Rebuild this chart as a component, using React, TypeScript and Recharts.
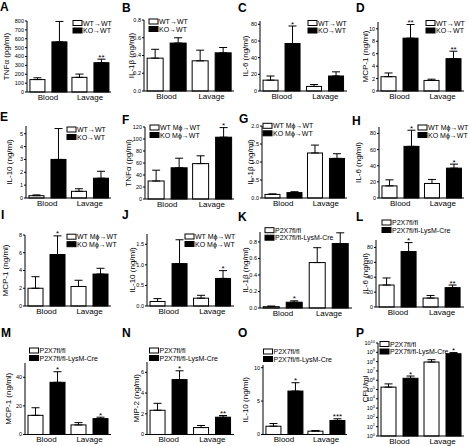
import { BarChart, Bar, XAxis, YAxis, ErrorBar } from "recharts";

const categories = ["Blood", "Lavage"];

const chimeraLegend = ["WT→WT", "KO→WT"];
const macLegend = ["WT Mϕ→WT", "KO Mϕ→WT"];
const floxLegend = ["P2X7fl/fl", "P2X7fl/fl-LysM-Cre"];

// A - TNFα
const aWt = [140, 165];
const aWtErr = [20, 37];
const aKo = [565, 330];
const aKoErr = [230, 40];
const aStars = ["", "**"];
const aTicks = [0, 100, 200, 300, 400, 500, 600, 700, 800];

// B - IL-1β
const bWt = [0.37, 0.34];
const bWtErr = [0.1, 0.12];
const bKo = [0.54, 0.43];
const bKoErr = [0.06, 0.06];
const bStars = ["", ""];
const bTicks = [0, 0.2, 0.4, 0.6, 0.8];

// C - IL-6
const cWt = [13, 5.5];
const cWtErr = [5, 2.3];
const cKo = [57, 18];
const cKoErr = [21, 5];
const cStars = ["*", ""];
const cTicks = [0, 20, 40, 60, 80];

// D - MCP-1
const dWt = [2.3, 1.7];
const dWtErr = [0.6, 0.2];
const dKo = [8.5, 5.2];
const dKoErr = [2.2, 1.2];
const dStars = ["**", "**"];
const dTicks = [0, 2, 4, 6, 8, 10];

// E - IL-10
const eWt = [0.18, 0.52];
const eWtErr = [0.06, 0.2];
const eKo = [3.0, 1.54];
const eKoErr = [2.4, 0.54];
const eStars = ["", ""];
const eTicks = [0, 1, 2, 3, 4, 5];

// F - TNFα, macrophage transfer
const fWt = [30, 59];
const fWtErr = [18, 13];
const fKo = [52, 103];
const fKoErr = [16, 16];
const fStars = ["", "*"];
const fTicks = [0, 20, 40, 60, 80, 100, 120];

// G - IL-1β
const gWt = [0.1, 1.25];
const gWtErr = [0.015, 0.22];
const gKo = [0.15, 1.1];
const gKoErr = [0.025, 0.13];
const gStars = ["", ""];
const gTicks = [0, 0.5, 1, 1.5, 2];

// H - IL-6
const hWt = [15, 18];
const hWtErr = [7.5, 5];
const hKo = [64, 37];
const hKoErr = [20, 5];
const hStars = ["*", "*"];
const hTicks = [0, 20, 40, 60, 80];

// I - MCP-1
const iWt = [2.0, 2.2];
const iWtErr = [1.3, 0.7];
const iKo = [5.8, 3.6];
const iKoErr = [2.1, 0.65];
const iStars = ["*", ""];
const iTicks = [0, 2, 4, 6, 8];

// J - IL-10
const jWt = [0.11, 0.19];
const jWtErr = [0.07, 0.07];
const jKo = [1.03, 0.67];
const jKoErr = [0.58, 0.19];
const jStars = ["", "*"];
const jTicks = [0, 0.5, 1, 1.5];

// K - IL-1β, P2X7 flox
const kWt = [0.016, 0.55];
const kWtErr = [0.008, 0.18];
const kKo = [0.07, 0.78];
const kKoErr = [0.017, 0.13];
const kStars = ["*", ""];
const kTicks = [0, 0.2, 0.4, 0.6, 0.8];

// L - IL-6
const lWt = [29.5, 12];
const lWtErr = [9.5, 3.5];
const lKo = [74.5, 26];
const lKoErr = [12, 3.5];
const lStars = ["*", "**"];
const lTicks = [0, 20, 40, 60, 80];

// M - MCP-1
const mWt = [13.4, 6.7];
const mWtErr = [5.3, 1.6];
const mKo = [36.5, 11.1];
const mKoErr = [7.4, 1.0];
const mStars = ["*", "*"];
const mTicks = [0, 20, 40];

// N - MIP-2
const nWt = [2.34, 0.67];
const nWtErr = [0.67, 0.2];
const nKo = [5.3, 1.67];
const nKoErr = [0.85, 0.16];
const nStars = ["*", "**"];
const nTicks = [0, 2, 4, 6];

// O - IL-10
const oWt = [1.24, 0.5];
const oWtErr = [0.4, 0.1];
const oKo = [6.5, 2.1];
const oKoErr = [1.25, 0.25];
const oStars = ["*", "***"];
const oTicks = [0, 5, 10];

// P - CFU/ml (log)
const pWt = [1.8e5, 9e7];
const pWtErr = [2.2e5, 7e7];
const pKo = [1.6e6, 7e8];
const pKoErr = [1.2e6, 2.3e8];
const pStars = ["*", "*"];
const pTicks = [1, 10, 1e2, 1e3, 1e4, 1e5, 1e6, 1e7, 1e8, 1e9, 1e10];

const FONT = "'Liberation Sans', Arial, Helvetica, sans-serif";

type Box = { l: number; r: number; t: number; b: number };

type PanelDef = {
  letter: string;
  ylabel: string;
  legend: string[];
  wt: number[];
  wtErr: number[];
  ko: number[];
  koErr: number[];
  stars: string[];
  ticks: number[];
  domain: [number, number];
  digits: number;
  log?: boolean;
  box: Box;
  ylx: number;
  leg: [number, number];
  let: [number, number];
};

const panels: PanelDef[] = [
  { letter: "A", ylabel: "TNFα (pg/ml)", legend: chimeraLegend, wt: aWt, wtErr: aWtErr, ko: aKo, koErr: aKoErr, stars: aStars, ticks: aTicks, domain: [0, 800], digits: 0,
    box: { l: 27, r: 111, t: 21, b: 92 }, ylx: 6, leg: [73, 23], let: [0, 11] },
  { letter: "B", ylabel: "IL-1β (ng/ml)", legend: chimeraLegend, wt: bWt, wtErr: bWtErr, ko: bKo, koErr: bKoErr, stars: bStars, ticks: bTicks, domain: [0, 0.8], digits: 1,
    box: { l: 144, r: 234, t: 20, b: 91 }, ylx: 131, leg: [149, 21.5], let: [122, 12] },
  { letter: "C", ylabel: "IL-6 (ng/ml)", legend: chimeraLegend, wt: cWt, wtErr: cWtErr, ko: cKo, koErr: cKoErr, stars: cStars, ticks: cTicks, domain: [0, 84], digits: 0,
    box: { l: 260, r: 347, t: 21, b: 91 }, ylx: 245, leg: [308, 23], let: [238, 12] },
  { letter: "D", ylabel: "MCP-1 (ng/ml)", legend: chimeraLegend, wt: dWt, wtErr: dWtErr, ko: dKo, koErr: dKoErr, stars: dStars, ticks: dTicks, domain: [0, 11.1], digits: 0,
    box: { l: 378, r: 464, t: 22, b: 91 }, ylx: 365, leg: [426, 23], let: [356, 12] },

  { letter: "E", ylabel: "IL-10 (ng/ml)", legend: chimeraLegend, wt: eWt, wtErr: eWtErr, ko: eKo, koErr: eKoErr, stars: eStars, ticks: eTicks, domain: [0, 5.6], digits: 0,
    box: { l: 26, r: 111, t: 126, b: 198 }, ylx: 9, leg: [67, 129.5], let: [0, 121] },
  { letter: "F", ylabel: "TNFα (pg/ml)", legend: macLegend, wt: fWt, wtErr: fWtErr, ko: fKo, koErr: fKoErr, stars: fStars, ticks: fTicks, domain: [0, 120], digits: 0,
    box: { l: 145, r: 234, t: 127, b: 199 }, ylx: 128, leg: [150, 127.5], let: [122, 124] },
  { letter: "G", ylabel: "IL-1β (ng/ml)", legend: macLegend, wt: gWt, wtErr: gWtErr, ko: gKo, koErr: gKoErr, stars: gStars, ticks: gTicks, domain: [0, 2], digits: 1,
    box: { l: 262, r: 347, t: 126, b: 198 }, ylx: 250, leg: [263, 125.8], let: [239, 123] },
  { letter: "H", ylabel: "IL-6 (ng/ml)", legend: macLegend, wt: hWt, wtErr: hWtErr, ko: hKo, koErr: hKoErr, stars: hStars, ticks: hTicks, domain: [0, 88], digits: 0,
    box: { l: 379, r: 464, t: 127, b: 198 }, ylx: 358, leg: [418, 127.5], let: [352, 125] },

  { letter: "I", ylabel: "MCP-1 (ng/ml)", legend: macLegend, wt: iWt, wtErr: iWtErr, ko: iKo, koErr: iKoErr, stars: iStars, ticks: iTicks, domain: [0, 8], digits: 0,
    box: { l: 25, r: 111, t: 235, b: 306 }, ylx: 5, leg: [67, 236.7], let: [1, 219] },
  { letter: "J", ylabel: "IL-10 (ng/ml)", legend: macLegend, wt: jWt, wtErr: jWtErr, ko: jKo, koErr: jKoErr, stars: jStars, ticks: jTicks, domain: [0, 1.75], digits: 1,
    box: { l: 147, r: 234, t: 234, b: 306 }, ylx: 132, leg: [185, 236.5], let: [122, 219] },
  { letter: "K", ylabel: "IL-1β (ng/ml)", legend: floxLegend, wt: kWt, wtErr: kWtErr, ko: kKo, koErr: kKoErr, stars: kStars, ticks: kTicks, domain: [0, 0.92], digits: 1,
    box: { l: 260, r: 352, t: 232, b: 308 }, ylx: 245.5, leg: [265, 230.2], let: [238, 221] },
  { letter: "L", ylabel: "IL-6 (ng/ml)", legend: floxLegend, wt: lWt, wtErr: lWtErr, ko: lKo, koErr: lKoErr, stars: lStars, ticks: lTicks, domain: [0, 90], digits: 0,
    box: { l: 376, r: 464, t: 240, b: 307 }, ylx: 365, leg: [382, 222.5], let: [356, 221] },

  { letter: "M", ylabel: "MCP-1 (ng/ml)", legend: floxLegend, wt: mWt, wtErr: mWtErr, ko: mKo, koErr: mKoErr, stars: mStars, ticks: mTicks, domain: [0, 50], digits: 0,
    box: { l: 25, r: 111, t: 363, b: 434.5 }, ylx: 8, leg: [29.5, 350.5], let: [1, 337] },
  { letter: "N", ylabel: "MIP-2 (ng/ml)", legend: floxLegend, wt: nWt, wtErr: nWtErr, ko: nKo, koErr: nKoErr, stars: nStars, ticks: nTicks, domain: [0, 7], digits: 0,
    box: { l: 147, r: 234, t: 362, b: 434.5 }, ylx: 136, leg: [149.5, 350.5], let: [122, 337] },
  { letter: "O", ylabel: "IL-10 (ng/ml)", legend: floxLegend, wt: oWt, wtErr: oWtErr, ko: oKo, koErr: oKoErr, stars: oStars, ticks: oTicks, domain: [0, 10.4], digits: 0,
    box: { l: 263, r: 347, t: 365, b: 434.5 }, ylx: 245.5, leg: [263.5, 351.5], let: [238, 337] },
  { letter: "P", ylabel: "CFU/ml", legend: floxLegend, wt: pWt, wtErr: pWtErr, ko: pKo, koErr: pKoErr, stars: pStars, ticks: pTicks, domain: [1, 1e10], digits: 0, log: true,
    box: { l: 378, r: 464, t: 342.5, b: 435.5 }, ylx: 365.5, leg: [380, 344], let: [356, 337] },
];

// bar rect plus the significance stars that sit above its error bar
const makeShape = (vals: number[], errs: number[], stars: string[], log?: boolean) => (props: any) => {
  const { x, y, width, height, index, fill } = props;
  const v = vals[index];
  const e = errs[index];
  let errTop = y;
  if (height > 0 && v > 0) {
    if (log) {
      const dec = Math.log10(v);
      errTop = y - (Math.log10(v + e) - dec) * (height / dec);
    } else {
      errTop = y - e * (height / v);
    }
  }
  const s = stars[index];
  return (
    <g>
      <rect x={x} y={y} width={width} height={height} fill={fill} stroke="#000" strokeWidth={1} />
      {s ? (
        <text x={x + width / 2} y={errTop + 0.5} textAnchor="middle" fontSize={8} fill="#000">
          {s}
        </text>
      ) : null}
    </g>
  );
};

const LogTick = (props: any) => {
  const { x, y, payload } = props;
  const n = Math.round(Math.log10(payload.value));
  return (
    <text x={x} y={y} dy={2} textAnchor="end" fontSize={5.5} fill="#000">
      10
      <tspan dy={-2.5} fontSize={4}>
        {n}
      </tspan>
    </text>
  );
};

const PAD_L = 40;
const PAD_T = 14;
const PAD_B = 16;
const PAD_R = 4;

function Panel({ p }: { p: PanelDef }) {
  const { l, r, t, b } = p.box;
  const data = categories.map((cat, i) => ({
    cat,
    wt: p.wt[i],
    wtErr: [0, p.wtErr[i]],
    ko: p.ko[i],
    koErr: [0, p.koErr[i]],
  }));
  return (
    <div style={{ position: "absolute", left: l - PAD_L, top: t - PAD_T }}>
      <BarChart
        width={r - l + PAD_L + PAD_R}
        height={b - t + PAD_T + PAD_B}
        data={data}
        margin={{ top: PAD_T, right: PAD_R, left: 0, bottom: 0 }}
        barCategoryGap="7%"
        barGap={7}>
        <XAxis
          dataKey="cat"
          height={PAD_B}
          tickLine={false}
          tickSize={0}
          tickMargin={2}
          axisLine={{ stroke: "#000", strokeWidth: 1 }}
          tick={{ fontSize: 8, fill: "#000" }}
        />
        <YAxis
          width={PAD_L}
          type="number"
          scale={p.log ? "log" : "auto"}
          domain={p.domain}
          ticks={p.ticks}
          interval={0}
          tickSize={2}
          tickMargin={1}
          axisLine={{ stroke: "#000", strokeWidth: 1 }}
          tickLine={{ stroke: "#000", strokeWidth: 1 }}
          tick={p.log ? <LogTick /> : { fontSize: 5.5, fill: "#000" }}
          tickFormatter={(v: number) => v.toFixed(p.digits)}
        />
        <Bar dataKey="wt" fill="#fff" isAnimationActive={false} shape={makeShape(p.wt, p.wtErr, ["", ""], p.log)}>
          <ErrorBar dataKey="wtErr" width={4} stroke="#000" strokeWidth={1} direction="y" />
        </Bar>
        <Bar dataKey="ko" fill="#000" isAnimationActive={false} shape={makeShape(p.ko, p.koErr, p.stars, p.log)}>
          <ErrorBar dataKey="koErr" width={4} stroke="#000" strokeWidth={1} direction="y" />
        </Bar>
      </BarChart>
    </div>
  );
}

export default function App() {
  return (
    <div
      style={{
        position: "absolute",
        left: 0,
        top: 0,
        width: 470,
        height: 446,
        background: "#fff",
        fontFamily: FONT,
        overflow: "hidden",
      }}>
      {panels.map((p) => (
        <Panel key={p.letter} p={p} />
      ))}
      <svg width={470} height={446} style={{ position: "absolute", left: 0, top: 0, pointerEvents: "none" }}>
        {panels.map((p) => (
          <g key={p.letter} fontFamily={FONT} fill="#000">
            <text x={p.let[0]} y={p.let[1]} fontSize={12} fontWeight="bold">
              {p.letter}
            </text>
            <text
              transform={`translate(${p.ylx},${(p.box.t + p.box.b) / 2}) rotate(-90)`}
              textAnchor="middle"
              dominantBaseline="central"
              fontSize={8}>
              {p.ylabel}
            </text>
            {p.legend.map((name, i) => (
              <g key={name}>
                <rect
                  x={p.leg[0]}
                  y={p.leg[1] + i * 7.5 - 2.5}
                  width={9}
                  height={5}
                  fill={i === 0 ? "#fff" : "#000"}
                  stroke="#000"
                  strokeWidth={1}
                />
                <text x={p.leg[0] + 10} y={p.leg[1] + i * 7.5 + 2.5} fontSize={7}>
                  {name}
                </text>
              </g>
            ))}
          </g>
        ))}
      </svg>
    </div>
  );
}
